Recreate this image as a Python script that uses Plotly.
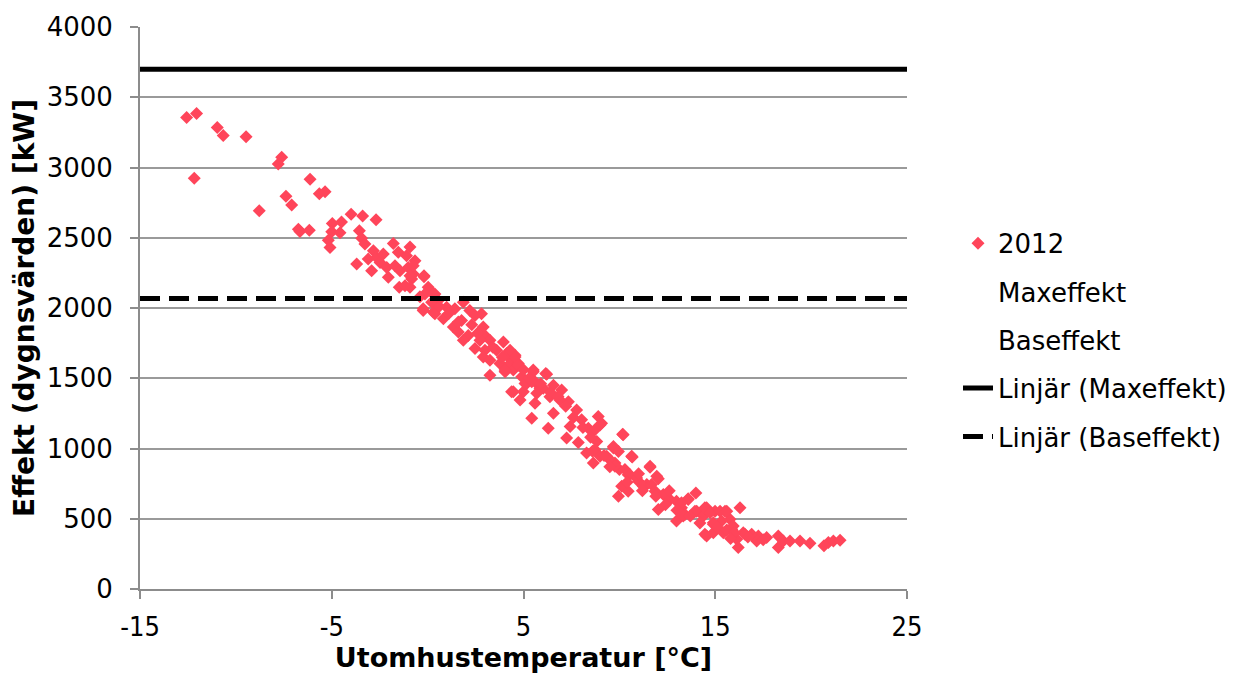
import plotly.graph_objects as go

# --- data ---
temp_2012 = [
    -12.57, -12.05, -10.97, -10.66, -9.47, -7.61, -7.79, -12.17, -7.39, -7.09, -8.78, -6.74,
    -6.13, -5.65, -5.35, -6.66, -6.17, -4.97, -4.49, -3.99, -3.39, -2.69, -5.00, -4.57,
    -5.18, -5.09, -3.56, -3.44, -3.27, -3.70, -3.10, -2.83, -2.66, -2.92, -2.48, -2.31,
    -2.13, -1.79, -1.53, -2.05, -1.70, -1.44, -0.92, -1.10, -0.66, -1.01, -0.75, -0.83,
    -1.48, -0.92, -0.19, 0.12, 0.38, -0.23, 0.30,
    -0.75, -0.92, -1.18, -0.19, 0.03, -0.14, 0.30, 0.56, 0.21, -0.23, 0.38, 0.82,
    0.99, 1.42, 1.86, 2.20, 2.81, 2.47, 1.77, 1.34, 1.60, 2.12, 1.86, 2.90,
    2.99, 3.25, 2.73, 2.47, 2.99, 3.95, 3.60, 2.90, 3.25, 4.12, 3.77, 4.56,
    4.30, 3.25, 4.04, 4.47, 4.73, 5.51, 6.16, 4.91, 5.17, 5.60, 4.47, 4.99,
    5.86, 6.56,
    4.12, 4.56, 4.04, 4.73, 5.51, 6.21, 4.38, 4.82, 5.08, 5.43, 5.69, 5.60,
    6.03, 6.38, 6.99, 6.90, 7.34, 6.56, 7.77, 5.43, 6.29, 7.43, 8.03, 8.38,
    8.90, 9.07, 8.73, 7.25, 7.86, 10.20, 8.82, 8.29, 8.73, 8.99, 8.64, 9.69,
    9.34, 9.77, 10.64, 10.00, 10.46, 11.60, 10.99, 11.43, 11.95,
    10.17, 8.99, 9.69, 9.95, 10.67, 9.51, 9.77, 10.29, 10.55, 10.90, 11.60, 10.12,
    10.46, 9.95, 11.25, 11.68, 12.03, 11.86, 12.29, 12.64, 12.03, 12.98, 13.24, 13.59,
    13.99, 13.42, 12.98, 14.03, 14.55, 14.38, 14.99, 15.51, 16.29, 14.55, 14.90, 15.33,
    15.77, 15.86, 16.12, 16.46, 16.90, 17.25, 16.20,
    13.59, 13.24, 13.33, 13.94, 14.46, 14.73, 15.25, 15.60, 14.46, 14.90, 14.90, 15.42,
    15.94, 16.55, 17.16, 17.68, 18.29, 18.29, 18.55, 18.90, 19.42, 19.94, 20.67, 20.90,
    21.16, 21.51,
    -0.40, 0.60, 1.10, 1.60, 2.30, 2.60, 3.40, 3.90, 4.30, 5.00, 5.30, 5.90,
    6.40, 6.80, 7.20, 7.60, 8.10, 8.50, 8.60, 9.20, 9.50, 10.40, 11.20, 11.90,
    12.40, 13.00, 13.70, 14.20, 15.10, 15.60, 16.00, 16.70, 17.50, 15.80, 12.60, 11.00,
]
power_2012 = [
    3356, 3384, 3285, 3228, 3219, 3073, 3025, 2924, 2796, 2733, 2692, 2561,
    2917, 2813, 2827, 2544, 2554, 2601, 2612, 2667, 2655, 2629, 2542, 2535,
    2483, 2431, 2549, 2497, 2455, 2313, 2348, 2407, 2360, 2265, 2324, 2384,
    2289, 2459, 2396, 2218, 2301, 2265, 2435, 2372, 2336, 2289, 2242, 2207,
    2147, 2147, 2223, 2124, 2100, 1994, 1970,
    2301, 2230, 2159, 2230, 2147, 2100, 2100, 2053, 2041, 1982, 1959, 1924,
    2006, 1994, 2041, 1982, 1959, 1947, 1911, 1864, 1829, 1805, 1770, 1864,
    1805, 1770, 1770, 1711, 1699, 1758, 1699, 1652, 1628, 1676, 1605, 1664,
    1605, 1522, 1546, 1558, 1605, 1558, 1534, 1510, 1463, 1475, 1404, 1404,
    1428, 1451,
    1664, 1652, 1558, 1593, 1546, 1529, 1404, 1345, 1463, 1475, 1393, 1322,
    1428, 1369, 1416, 1345, 1333, 1251, 1274, 1216, 1145, 1156, 1204, 1145,
    1227, 1180, 1133, 1074, 1043, 1097, 1050, 968, 991, 944, 897, 1003,
    944, 897, 944, 850, 814, 873, 767, 743, 802,
    1102, 1168, 1015, 979, 939, 920, 873, 850, 814, 790, 866, 731,
    696, 661, 731, 743, 784, 696, 673, 637, 566, 625, 578, 637,
    684, 531, 484, 554, 578, 519, 554, 554, 578, 377, 460, 484,
    496, 425, 354, 401, 389, 377, 295,
    642, 614, 519, 554, 578, 543, 554, 554, 389, 401, 472, 401,
    448, 389, 342, 366, 377, 295, 342, 342, 342, 326, 307, 331,
    342, 347,
    2080, 2010, 1960, 1900, 1880, 1820, 1720, 1650, 1700, 1560, 1500, 1460,
    1400, 1370, 1300, 1220, 1150, 1080, 980, 950, 870, 760, 700, 660,
    600, 560, 520, 470, 440, 420, 400, 370, 350, 360, 700, 820,
]

trend_x = [-15, 25]
trend_max = [3700, 3700]
trend_base = [2067, 2067]

x_ticks = [-15, -5, 5, 15, 25]
y_ticks = [0, 500, 1000, 1500, 2000, 2500, 3000, 3500, 4000]

FONT = "DejaVu Sans"
NARROW = "Liberation Sans Narrow, DejaVu Sans Condensed, DejaVu Sans"

fig = go.Figure()
fig.add_trace(go.Scatter(
    x=temp_2012, y=power_2012, mode="markers", name="2012",
    marker=dict(symbol="diamond", size=10, color="#FF455A", line=dict(width=0)),
    legendgroup="a", legendrank=1,
))
fig.add_trace(go.Scatter(
    x=[None], y=[None], mode="markers", name="Maxeffekt",
    marker=dict(color="rgba(0,0,0,0)", size=1, line=dict(width=0)),
    legendgroup="b", legendrank=2,
))
fig.add_trace(go.Scatter(
    x=[None], y=[None], mode="markers", name="Baseffekt",
    marker=dict(color="rgba(0,0,0,0)", size=1, line=dict(width=0)),
    legendgroup="c", legendrank=3,
))
fig.add_trace(go.Scatter(
    x=trend_x, y=trend_max, mode="lines", name="Linjär (Maxeffekt)",
    line=dict(color="black", width=5), legendgroup="d", legendrank=4,
))
fig.add_trace(go.Scatter(
    x=trend_x, y=trend_base, mode="lines", name="Linjär (Baseffekt)",
    line=dict(color="black", width=5, dash="20px,9px"), legendgroup="e", legendrank=5,
))

fig.update_layout(
    width=1252, height=675,
    margin=dict(l=140, r=345, t=25, b=85),
    paper_bgcolor="white", plot_bgcolor="white",
    font=dict(family=FONT, size=24, color="black"),
    showlegend=True,
    legend=dict(
        x=1.0665, y=0.4425, xanchor="left", yanchor="middle",
        font=dict(family=FONT, size=26, color="black"),
        traceorder="grouped", tracegroupgap=11.5,
        bgcolor="rgba(0,0,0,0)",
    ),
)
fig.update_xaxes(
    range=[-15, 25], tickvals=x_ticks, ticktext=[str(v) for v in x_ticks],
    showgrid=False, zeroline=False,
    showline=True, linecolor="#8c8c8c", linewidth=2,
    ticks="outside", ticklen=8, tickcolor="#8c8c8c", tickwidth=2,
    ticklabelstandoff=5,
    tickfont=dict(family=NARROW, size=27),
    title=dict(text="<b>Utomhustemperatur [°C]</b>", font=dict(family=FONT, size=27), standoff=2),
)
fig.update_yaxes(
    range=[0, 4000], tickvals=y_ticks,
    showgrid=True, gridcolor="#9a9a9a", gridwidth=1.5, zeroline=False,
    showline=True, linecolor="#8c8c8c", linewidth=2,
    ticks="outside", ticklen=8, tickcolor="#8c8c8c", tickwidth=2,
    ticklabelstandoff=12,
    tickfont=dict(family=FONT, size=26),
    title=dict(text="<b>Effekt (dygnsvärden) [kW]</b>", font=dict(family=FONT, size=28), standoff=4),
)

fig.write_html("out.html")
